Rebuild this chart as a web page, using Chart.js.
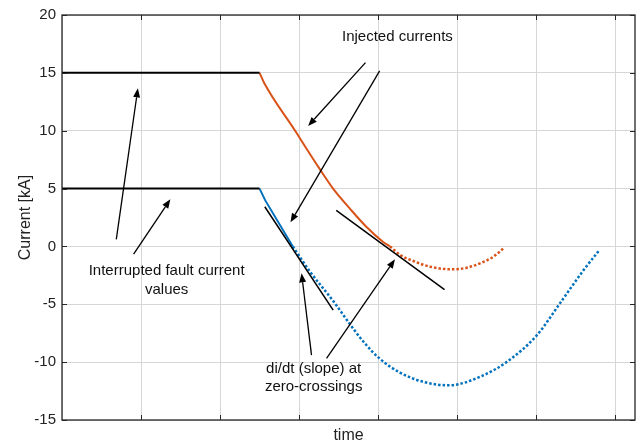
<!DOCTYPE html>
<html>
<head>
<meta charset="utf-8">
<script src="https://cdn.jsdelivr.net/npm/chart.js@4/dist/chart.umd.min.js"></script>
<style>
  body { margin: 0; background: #fff; }
</style>
</head>
<body>
<canvas id="chart" width="638" height="445"></canvas>
<script>
// time axis has no units, grid every 1
var xGridTicks = [0, 1, 2, 3, 4, 5, 6, 7];
var yTicks = [-15, -10, -5, 0, 5, 10, 15, 20];

// interrupted fault currents (before injection)
var flatTime = [0, 2.5];
var flatHigh = [15, 15];
var flatLow = [5, 5];

// red current: solid until zero crossing, dotted after
var redSolidT = [2.5, 2.56, 2.95, 3.07, 3.26, 3.43, 3.64, 3.85, 4.06, 4.15];
var redSolidI = [15, 14.1, 10, 8.7, 6.7, 5.0, 3.29, 1.7, 0.41, 0];
var redDotT = [4.15, 4.28, 4.445, 4.656, 4.93, 5.12, 5.29, 5.458, 5.594];
var redDotI = [0, -0.74, -1.26, -1.75, -1.98, -1.84, -1.46, -0.89, -0.11];

// blue current
var blueSolidT = [2.5, 2.57, 2.92];
var blueSolidI = [5, 4.0, 0];
var blueDotT = [2.92, 3.14, 3.43, 3.62, 3.81, 4.02, 4.275, 4.57, 4.9, 5.29, 5.63, 6.01, 6.3, 6.6, 6.8];
var blueDotI = [0, -2.2, -4.7, -6.5, -8.2, -9.7, -10.9, -11.7, -12, -11.26, -9.97, -7.66, -4.92, -2.04, -0.31];

// slope lines at zero crossings
var blueTanT = [2.566, 3.431];
var blueTanI = [3.43, -5.5];
var redTanT = [3.47, 4.84];
var redTanI = [3.11, -3.74];

// annotation arrows [tailT, tailI, headT, headI]
var arrows = [
    [3.84, 15.88, 3.114, 10.41],
    [4.019, 15.17, 2.891, 2.08],
    [0.687, 0.61, 0.96, 13.66],
    [0.906, -0.66, 1.371, 4.07],
    [3.157, -9.39, 3.031, -2.32],
    [3.347, -9.67, 4.213, -1.11]
];
var notes = [
    ["Injected currents", 4.244, 18.1],
    ["Interrupted fault current", 1.324, -2.1],
    ["values", 1.324, -3.77],
    ["di/dt (slope) at", 3.184, -10.54],
    ["zero-crossings", 3.184, -12.13]
];

function pts(t, v) {
    return t.map(function (x, i) { return { x: x, y: v[i] }; });
}

var RED = "#D95319";
var BLUE = "#0072BD";

var framePlugin = {
    id: "frame",
    afterDatasetsDraw: function (chart) {
        var ctx = chart.ctx;
        var a = chart.chartArea;
        var xs = chart.scales.x, ys = chart.scales.y;
        ctx.save();
        // inward ticks
        ctx.strokeStyle = "#262626";
        ctx.lineWidth = 1;
        ctx.beginPath();
        xGridTicks.forEach(function (v) {
            if (v === 0) return;
            var px = Math.round(xs.getPixelForValue(v)) + 0.5;
            ctx.moveTo(px, a.top); ctx.lineTo(px, a.top + 5);
            ctx.moveTo(px, a.bottom); ctx.lineTo(px, a.bottom - 5);
        });
        yTicks.forEach(function (v) {
            var py = Math.round(ys.getPixelForValue(v)) + 0.5;
            ctx.moveTo(a.left, py); ctx.lineTo(a.left + 5, py);
            ctx.moveTo(a.right, py); ctx.lineTo(a.right - 5, py);
        });
        ctx.stroke();
        ctx.lineWidth = 1.3;
        ctx.strokeRect(a.left, a.top, a.right - a.left, a.bottom - a.top);

        // arrows
        ctx.strokeStyle = "#000";
        ctx.fillStyle = "#000";
        ctx.lineWidth = 1.3;
        arrows.forEach(function (ar) {
            var x1 = xs.getPixelForValue(ar[0]), y1 = ys.getPixelForValue(ar[1]);
            var x2 = xs.getPixelForValue(ar[2]), y2 = ys.getPixelForValue(ar[3]);
            var ang = Math.atan2(y2 - y1, x2 - x1);
            var hl = 9, hw = 3.5;
            var bx = x2 - hl * Math.cos(ang), by = y2 - hl * Math.sin(ang);
            ctx.beginPath();
            ctx.moveTo(x1, y1);
            ctx.lineTo(bx, by);
            ctx.stroke();
            ctx.beginPath();
            ctx.moveTo(x2, y2);
            ctx.lineTo(bx + hw * Math.sin(ang), by - hw * Math.cos(ang));
            ctx.lineTo(bx - hw * Math.sin(ang), by + hw * Math.cos(ang));
            ctx.closePath();
            ctx.fill();
        });

        // texts
        ctx.font = "15px 'Liberation Sans', Arial, sans-serif";
        ctx.fillStyle = "#111";
        ctx.textAlign = "center";
        ctx.textBaseline = "middle";
        notes.forEach(function (n) {
            ctx.fillText(n[0], xs.getPixelForValue(n[1]), ys.getPixelForValue(n[2]));
        });
        ctx.restore();
    }
};

var ctx1 = document.getElementById("chart");

var chart1 = new Chart(ctx1, {
    type: "line",
    data: {
        datasets: [
            { data: pts(blueTanT, blueTanI), borderColor: "#000", borderWidth: 1.5 },
            { data: pts(redTanT, redTanI), borderColor: "#000", borderWidth: 1.5 },
            { data: pts(flatTime, flatHigh), borderColor: "#000", borderWidth: 2 },
            { data: pts(flatTime, flatLow), borderColor: "#000", borderWidth: 2 },
            { data: pts(redSolidT, redSolidI), borderColor: RED, borderWidth: 2, cubicInterpolationMode: "monotone" },
            { data: pts(redDotT, redDotI), borderColor: RED, borderWidth: 2.5, borderDash: [2.5, 2], cubicInterpolationMode: "monotone" },
            { data: pts(blueSolidT, blueSolidI), borderColor: BLUE, borderWidth: 2 },
            { data: pts(blueDotT, blueDotI), borderColor: BLUE, borderWidth: 2.5, borderDash: [2.5, 2], cubicInterpolationMode: "monotone" }
        ]
    },
    options: {
        responsive: false,
        animation: false,
        layout: { padding: { top: 15, right: 3, left: 0, bottom: 0 } },
        elements: { point: { radius: 0 }, line: { fill: false } },
        plugins: { legend: { display: false }, tooltip: { enabled: false } },
        scales: {
            x: {
                type: "linear",
                min: 0,
                max: 7.25,
                afterBuildTicks: function (s) {
                    s.ticks = xGridTicks.map(function (v) { return { value: v }; });
                },
                afterFit: function (s) { s.height = 25; },
                ticks: { display: false },
                grid: { color: "#d6d6d6", drawTicks: false },
                border: { display: false },
                title: {
                    display: true,
                    text: "time",
                    color: "#222",
                    padding: 0,
                    font: { family: "'Liberation Sans', Arial, sans-serif", size: 16 }
                }
            },
            y: {
                min: -15,
                max: 20,
                afterBuildTicks: function (s) {
                    s.ticks = yTicks.map(function (v) { return { value: v }; });
                },
                afterFit: function (s) { s.width = 62; },
                ticks: {
                    padding: 6,
                    color: "#222",
                    font: { family: "'Liberation Sans', Arial, sans-serif", size: 15 }
                },
                grid: { color: "#d6d6d6", drawTicks: false },
                border: { display: false },
                title: {
                    display: true,
                    text: "Current [kA]",
                    color: "#222",
                    padding: { top: 16, bottom: 0 },
                    font: { family: "'Liberation Sans', Arial, sans-serif", size: 16 }
                }
            }
        }
    },
    plugins: [framePlugin]
});
</script>
</body>
</html>
